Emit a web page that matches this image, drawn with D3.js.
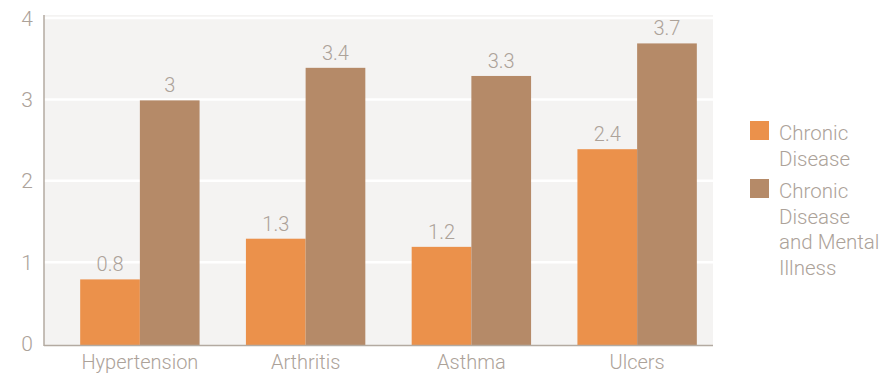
<!DOCTYPE html>
<html>
  <head>
    <meta charset="UTF-8">
    <title>Chronic disease chart</title>
    <script src="https://d3js.org/d3.v7.min.js"></script>
    <style>
      body { margin: 0; background: #fff; }
      text { font-family: Roboto, "Liberation Sans", sans-serif; font-weight: 300; fill: #aca299; }
    </style>
  </head>
  <body>
    <svg width="896" height="373"></svg>
    <script>
      const categories = ["Hypertension", "Arthritis", "Asthma", "Ulcers"];
      const seriesNames = ["Chronic Disease", "Chronic Disease and Mental Illness"];
      const chronic = [0.8, 1.3, 1.2, 2.4];
      const chronicMental = [3, 3.4, 3.3, 3.7];
      const yTicks = [0, 1, 2, 3, 4];
      const legendLines = [["Chronic", "Disease"], ["Chronic", "Disease", "and Mental", "Illness"]];
      const colors = ["#eb914b", "#b58a68"];

      const svg = d3.select("svg");
      const plotLeft = 44, plotRight = 713, plotTop = 15, plotBottom = 345;

      const y = d3.scaleLinear().domain([0, 4]).range([344.5, 19]);
      const x0 = d3.scaleBand().domain(categories).range([57, 720]);
      const barW = 59.7;
      const x1 = d3.scaleBand().domain(seriesNames)
        .range([x0.bandwidth() / 2 - barW, x0.bandwidth() / 2 + barW]);

      // plot background
      svg.append("rect")
        .attr("x", plotLeft).attr("y", plotTop)
        .attr("width", plotRight - plotLeft).attr("height", plotBottom - plotTop)
        .attr("fill", "#f4f3f2");

      // gridlines
      svg.append("g").selectAll("line")
        .data(yTicks.filter(d => d > 0))
        .join("line")
        .attr("x1", plotLeft).attr("x2", plotRight)
        .attr("y1", d => y(d) - 1).attr("y2", d => y(d) - 1)
        .attr("stroke", "#fff").attr("stroke-width", 2.5);

      // bars
      const rows = categories.map((c, i) => ({ cat: c, vals: [chronic[i], chronicMental[i]] }));
      const group = svg.append("g").selectAll("g")
        .data(rows)
        .join("g")
        .attr("transform", d => `translate(${x0(d.cat)},0)`);

      group.selectAll("rect")
        .data(d => d.vals.map((v, j) => ({ name: seriesNames[j], v, j })))
        .join("rect")
        .attr("x", d => x1(d.name))
        .attr("width", x1.bandwidth())
        .attr("y", d => y(d.v))
        .attr("height", d => y(0) - y(d.v) + 1)
        .attr("fill", d => colors[d.j]);

      group.selectAll("text")
        .data(d => d.vals.map((v, j) => ({ name: seriesNames[j], v, j })))
        .join("text")
        .attr("x", d => x1(d.name) + x1.bandwidth() / 2)
        .attr("y", d => y(d.v) - 8)
        .attr("text-anchor", "middle")
        .attr("font-size", 20)
        .text(d => d.v);

      // axes lines
      svg.append("line")
        .attr("x1", plotLeft).attr("x2", plotLeft)
        .attr("y1", plotTop).attr("y2", plotBottom + 1)
        .attr("stroke", "#b3aaa1").attr("stroke-width", 1.5);
      svg.append("line")
        .attr("x1", plotLeft).attr("x2", plotRight)
        .attr("y1", plotBottom + 0.5).attr("y2", plotBottom + 0.5)
        .attr("stroke", "#b3aaa1").attr("stroke-width", 1.5);

      // y tick labels
      svg.append("g").selectAll("text")
        .data(yTicks)
        .join("text")
        .attr("x", 27)
        .attr("y", d => y(d) - 1)
        .attr("dy", "0.36em")
        .attr("text-anchor", "middle")
        .attr("font-size", 21)
        .text(d => d);

      // x labels
      svg.append("g").selectAll("text")
        .data(categories)
        .join("text")
        .attr("x", d => x0(d) + x0.bandwidth() / 2)
        .attr("y", 369)
        .attr("text-anchor", "middle")
        .attr("font-size", 20)
        .text(d => d);

      // legend
      const legendTop = [121, 179];
      const legend = svg.append("g").selectAll("g")
        .data(seriesNames)
        .join("g")
        .attr("transform", (d, i) => `translate(750,${legendTop[i]})`);
      legend.append("rect")
        .attr("width", 19).attr("height", 19)
        .attr("fill", (d, i) => colors[i]);
      legend.append("text")
        .attr("x", 29)
        .attr("y", 19)
        .attr("font-size", 20.5)
        .selectAll("tspan")
        .data((d, i) => legendLines[i])
        .join("tspan")
        .attr("x", 29)
        .attr("dy", (d, k) => k === 0 ? 0 : 25.5)
        .text(d => d);
    </script>
  </body>
</html>
